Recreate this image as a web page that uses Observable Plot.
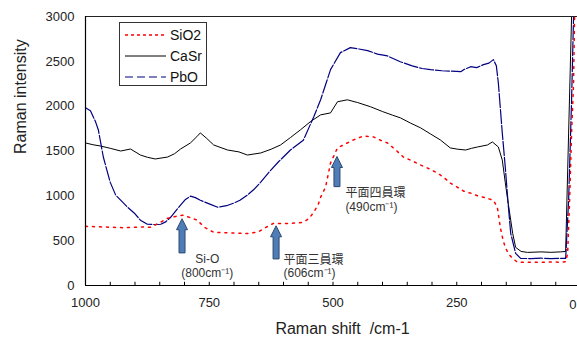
<!DOCTYPE html>
<html><head><meta charset="utf-8">
<script src="https://cdn.jsdelivr.net/npm/d3@7"></script>
<script src="https://cdn.jsdelivr.net/npm/@observablehq/plot@0.6"></script>
<style>
body{margin:0;background:#fff}
#chart svg{font-family:"Liberation Sans",Arial,"Noto Sans CJK JP",sans-serif}
</style>
</head><body><div id="chart"></div>
<script>
// ---- data ----
const seriesNames = ["SiO2", "CaSr", "PbO"];

const sio2Shift = [1000,975,950,925,903,885,869,850,834,818,804,790,774,760,741,720,700,680,667,650,635,620,600,586,570,560,548,539,530,525,515,505,491,479,459,438,418,400,390,375,358,340,323,305,289,275,263,250,236,222,208,196,176,168,162,157,152,145,137,127,100,80,60,40,30,26,22,18,14,12];
const sio2Int   = [660,655,650,645,650,652,650,700,750,770,784,760,728,650,593,590,585,580,582,600,650,694,690,694,700,705,750,817,900,985,1097,1366,1534,1567,1623,1668,1657,1610,1590,1520,1433,1390,1343,1300,1254,1200,1142,1100,1052,1030,1000,985,951,873,649,520,425,350,302,258,260,258,262,260,265,358,951,1700,2261,3000];

const casrShift = [1000,985,970,950,929,909,889,875,859,834,820,808,788,775,768,755,741,713,690,673,646,625,606,586,566,545,525,505,491,471,450,424,400,380,364,343,323,303,283,263,248,232,220,208,188,178,166,158,152,147,137,131,120,107,80,60,40,30,24,18];
const casrInt   = [1590,1570,1556,1530,1500,1522,1455,1430,1411,1433,1470,1522,1590,1660,1702,1640,1567,1511,1490,1455,1478,1520,1567,1650,1735,1830,1903,1925,2049,2071,2040,1993,1940,1900,1870,1810,1758,1690,1623,1534,1520,1511,1530,1545,1567,1601,1545,1399,1150,951,582,425,380,369,375,370,375,380,1700,3000];

const pboShift = [1000,990,980,974,964,950,939,925,915,900,889,875,860,848,838,828,818,808,798,788,778,768,750,733,715,701,688,673,660,646,630,610,586,560,539,525,505,485,465,450,430,410,390,364,340,320,303,280,260,242,236,222,210,196,185,176,170,166,158,152,146,141,131,121,100,80,60,40,30,24,18,14];
const pboInt   = [1982,1950,1830,1735,1433,1150,1008,930,873,800,728,683,680,683,710,761,830,896,960,996,980,951,910,873,890,918,950,1008,1070,1153,1260,1380,1511,1620,1880,2071,2407,2597,2653,2640,2620,2580,2560,2496,2450,2420,2407,2395,2390,2385,2407,2440,2430,2463,2480,2519,2450,2261,1700,1321,900,582,358,302,300,305,300,302,302,950,2071,3000];

const xTicks = [1000, 750, 500, 250];
const xEdgeTick = [0];
const yTicks = [0, 500, 1000, 1500, 2000, 2500, 3000];
const minorTicks = d3.range(1000, -1, -50);

// annotations
const arrowShift = [804, 614, 491];
const arrowTip   = [739, 660, 1433];
const arrowBase  = [358, 291, 1097];
const noteShift  = [754, 754, 600, 600, 475, 475];
const noteInt    = [291, 134, 280, 134, 1030, 873];
const noteText   = ["Si-O", "(800cm⁻¹)", "平面三員環", "(606cm⁻¹)", "平面四員環", "(490cm⁻¹)"];
const noteAnchor = ["middle", "middle", "start", "start", "start", "start"];

// ---- build ----
const mk = (name, xs, ys) => xs.map((x, i) => ({series: name, shift: x, intensity: ys[i]}));
const sio2 = mk("SiO2", sio2Shift, sio2Int);
const casr = mk("CaSr", casrShift, casrInt);
const pbo  = mk("PbO",  pboShift,  pboInt);
const notes = noteText.map((t, i) => ({t, x: noteShift[i], y: noteInt[i], a: noteAnchor[i]}));

const styles = {
  SiO2: {stroke: "#ff0000", dash: "2,5", legendDash: "3,3", w: 1.5},
  CaSr: {stroke: "#000000", dash: null, legendDash: null, w: 1},
  PbO:  {stroke: "#000080", dash: "14,2", legendDash: "8,4", w: 1.2}
};

function arrowsMark(index, scales) {
  const g = d3.create("svg:g");
  arrowShift.forEach((v, i) => {
    const cx = scales.x(v), ty = scales.y(arrowTip[i]), by = scales.y(arrowBase[i]);
    const hh = 11, hw = 5.5, sw = 3;
    const d = `M${cx},${ty}L${cx+hw},${ty+hh}L${cx+sw},${ty+hh}L${cx+sw},${by}L${cx-sw},${by}L${cx-sw},${ty+hh}L${cx-hw},${ty+hh}Z`;
    g.append("path").attr("d", d).attr("fill", "#4f7db8").attr("stroke", "#2c4a6e").attr("stroke-width", 1);
  });
  return g.node();
}

function legendMark() {
  const g = d3.create("svg:g");
  const x0 = 119.5, y0 = 22.5, w = 87, h = 63;
  g.append("rect").attr("x", x0).attr("y", y0).attr("width", w).attr("height", h)
    .attr("fill", "#fff").attr("stroke", "#333").attr("stroke-width", 1);
  seriesNames.forEach((n, i) => {
    const y = 35 + i * 21;
    const s = styles[n];
    g.append("line").attr("x1", 125).attr("x2", 166).attr("y1", y).attr("y2", y)
      .attr("stroke", s.stroke).attr("stroke-width", s.w)
      .attr("stroke-dasharray", s.legendDash);
    g.append("text").attr("x", 170).attr("y", y).attr("dy", "0.36em")
      .attr("text-anchor", "start")
      .attr("font-size", 14).attr("fill", "#111").text(n);
  });
  return g.node();
}

const lineMark = (data, n) => Plot.line(data, {
  x: "shift", y: "intensity", stroke: styles[n].stroke, strokeWidth: styles[n].w,
  strokeDasharray: styles[n].dash, curve: "linear"
});

const plot = Plot.plot({
  width: 577,
  height: 341,
  marginLeft: 85,
  marginRight: 0,
  marginTop: 16,
  marginBottom: 56,
  x: {domain: [1000, 0], range: [85, 580]},
  y: {domain: [0, 3000], range: [285, 16]},
  marks: [
    lineMark(casr, "CaSr"),
    lineMark(pbo, "PbO"),
    lineMark(sio2, "SiO2"),
    Plot.ruleY([3000], {stroke: "#222", strokeWidth: 1}),
    Plot.ruleX([1000], {stroke: "#000", strokeWidth: 1.2}),
    Plot.ruleY([0], {stroke: "#000", strokeWidth: 1.2}),
    Plot.ruleX(minorTicks, {x: d => d, y1: 0, y2: 36, stroke: "#000", strokeWidth: 1}),
    Plot.axisY({ticks: yTicks, tickFormat: d3.format("d"), tickSize: 0, tickPadding: 11, fontSize: 13, label: null, color: "#222"}),
    Plot.axisX({ticks: xTicks, tickFormat: d3.format("d"), tickSize: 0, tickPadding: 12, fontSize: 13, label: null, color: "#222"}),
    Plot.text(xEdgeTick, {x: d => d, y: 0, text: d => String(d), textAnchor: "end", dx: -4, dy: 19, fontSize: 13, fill: "#222"}),
    arrowsMark,
    Plot.text(notes.filter(d => d.a === "middle"), {x: "x", y: "y", text: "t", textAnchor: "middle", fontSize: 12, fill: "#333", lineAnchor: "middle"}),
    Plot.text(notes.filter(d => d.a === "start"), {x: "x", y: "y", text: "t", textAnchor: "start", fontSize: 12, fill: "#333", lineAnchor: "middle"}),
    legendMark,
    Plot.text(["Raman intensity"], {frameAnchor: "left", dx: -65, dy: 3, rotate: -90, fontSize: 16, fill: "#222"}),
    Plot.text(["Raman shift  /cm-1"], {frameAnchor: "bottom", dx: 11, dy: 48, fontSize: 16, fill: "#222"})
  ]
});
document.getElementById("chart").appendChild(plot);
</script>
</body></html>
